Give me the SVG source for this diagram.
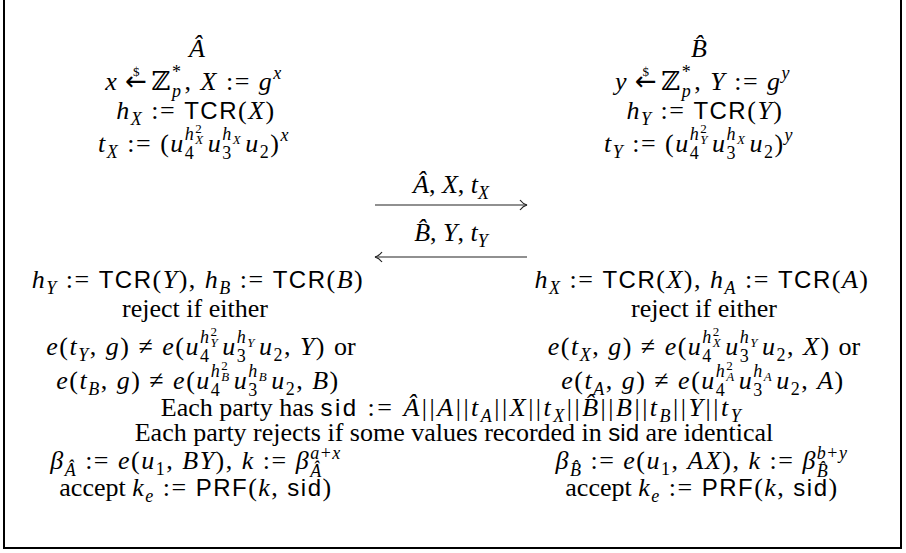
<svg xmlns="http://www.w3.org/2000/svg" width="906" height="553" viewBox="0 0 906 553">
<style>
text{font-family:"Liberation Serif","DejaVu Serif",serif;font-size:26px;fill:#000;text-anchor:middle}
.m{letter-spacing:1.5px}
.p{letter-spacing:0}
.w{letter-spacing:2.5px}
.i{font-style:italic}
.sf{font-family:"Liberation Sans","DejaVu Sans",sans-serif;font-size:24px;font-style:normal}
.s1{font-size:18px}
.s2{font-size:13px}
.ds{font-family:"DejaVu Serif",serif}
.ar{font-family:"DejaVu Sans",sans-serif}
.frame{fill:none;stroke:#000;stroke-width:2}
.msg{fill:none;stroke:#222;stroke-width:1.2}
</style>
<defs>
<marker id="head" viewBox="-9 -6 11 12" markerWidth="11" markerHeight="12" refX="0" refY="0" markerUnits="userSpaceOnUse" orient="auto-start-reverse" overflow="visible">
<path d="M-7,-5 Q-4,-1 0,0 Q-4,1 -7,5" fill="none" stroke="#222" stroke-width="1.2"/>
</marker>
</defs>
<path class="frame" d="M4,0 V548 H901 V0"/>

<g id="party-A">
<text x="197" y="57" class="i">Â</text>
<text x="194" y="90" class="m"><tspan class="i">x</tspan><tspan class="ar" dx="7">←</tspan><tspan class="s2" dx="-15.65" dy="-14">$</tspan><tspan class="ds" dx="10.65" dy="14">ℤ</tspan><tspan class="i s1" dy="7">p</tspan><tspan class="s1" dx="-10.5" dy="-19">*</tspan><tspan dx="2" dy="12">, </tspan><tspan class="i">X</tspan><tspan> := </tspan><tspan class="i">g</tspan><tspan class="i s1" dy="-11">x</tspan></text>
<text x="196" y="119" class="m"><tspan class="i">h</tspan><tspan class="i s1" dy="6">X</tspan><tspan dy="-6"> := </tspan><tspan class="sf">TCR</tspan><tspan>(</tspan><tspan class="i">X</tspan><tspan>)</tspan></text>
<text x="194" y="152" class="m"><tspan class="i">t</tspan><tspan class="i s1" dy="6">X</tspan><tspan dy="-6"> := (</tspan><tspan class="i">u</tspan><tspan class="s1" dy="7">4</tspan><tspan class="i s1" dx="-10.5" dy="-19">h</tspan><tspan class="s2" dy="-7">2</tspan><tspan class="i s2" dx="-8" dy="11">X</tspan><tspan class="i" dx="3" dy="8">u</tspan><tspan class="s1" dy="7">3</tspan><tspan class="i s1" dx="-10.5" dy="-19">h</tspan><tspan class="i s2" dy="4">X</tspan><tspan class="i" dx="3" dy="8">u</tspan><tspan class="s1" dy="6">2</tspan><tspan dy="-6">)</tspan><tspan class="i s1" dy="-11">x</tspan></text>
</g>

<g id="party-B">
<text x="699" y="57" class="i">B̂</text>
<text x="703" y="90" class="m"><tspan class="i">y</tspan><tspan class="ar" dx="7">←</tspan><tspan class="s2" dx="-15.65" dy="-14">$</tspan><tspan class="ds" dx="10.65" dy="14">ℤ</tspan><tspan class="i s1" dy="7">p</tspan><tspan class="s1" dx="-10.5" dy="-19">*</tspan><tspan dx="2" dy="12">, </tspan><tspan class="i">Y</tspan><tspan> := </tspan><tspan class="i">g</tspan><tspan class="i s1" dy="-11">y</tspan></text>
<text x="705" y="119" class="m"><tspan class="i">h</tspan><tspan class="i s1" dy="6">Y</tspan><tspan dy="-6"> := </tspan><tspan class="sf">TCR</tspan><tspan>(</tspan><tspan class="i">Y</tspan><tspan>)</tspan></text>
<text x="699" y="152" class="m"><tspan class="i">t</tspan><tspan class="i s1" dy="6">Y</tspan><tspan dy="-6"> := (</tspan><tspan class="i">u</tspan><tspan class="s1" dy="7">4</tspan><tspan class="i s1" dx="-10.5" dy="-19">h</tspan><tspan class="s2" dy="-7">2</tspan><tspan class="i s2" dx="-8" dy="11">Y</tspan><tspan class="i" dx="3" dy="8">u</tspan><tspan class="s1" dy="7">3</tspan><tspan class="i s1" dx="-10.5" dy="-19">h</tspan><tspan class="i s2" dy="4">X</tspan><tspan class="i" dx="3" dy="8">u</tspan><tspan class="s1" dy="6">2</tspan><tspan dy="-6">)</tspan><tspan class="i s1" dy="-11">y</tspan></text>
</g>

<g id="connectors">
<line class="msg" x1="375" y1="205" x2="527" y2="205" marker-end="url(#head)"/>
<text x="451" y="193"><tspan class="i">Â</tspan><tspan>, </tspan><tspan class="i">X</tspan><tspan>, </tspan><tspan class="i">t</tspan><tspan class="i s1" dy="6">X</tspan></text>
<line class="msg" x1="375" y1="257" x2="527" y2="257" marker-start="url(#head)"/>
<text x="451" y="241"><tspan class="i">B̂</tspan><tspan>, </tspan><tspan class="i">Y</tspan><tspan>, </tspan><tspan class="i">t</tspan><tspan class="i s1" dy="6">Y</tspan></text>
</g>

<g id="verify-A">
<text x="198" y="288" class="m"><tspan class="i">h</tspan><tspan class="i s1" dy="6">Y</tspan><tspan dy="-6"> := </tspan><tspan class="sf">TCR</tspan><tspan>(</tspan><tspan class="i">Y</tspan><tspan>), </tspan><tspan class="i">h</tspan><tspan class="i s1" dy="6">B</tspan><tspan dy="-6"> := </tspan><tspan class="sf">TCR</tspan><tspan>(</tspan><tspan class="i">B</tspan><tspan>)</tspan></text>
<text x="195" y="317">reject if either</text>
<text x="201" y="355" class="m"><tspan class="i">e</tspan><tspan>(</tspan><tspan class="i">t</tspan><tspan class="i s1" dy="6">Y</tspan><tspan dy="-6">, </tspan><tspan class="i">g</tspan><tspan>) ≠ </tspan><tspan class="i">e</tspan><tspan>(</tspan><tspan class="i">u</tspan><tspan class="s1" dy="7">4</tspan><tspan class="i s1" dx="-10.5" dy="-19">h</tspan><tspan class="s2" dy="-7">2</tspan><tspan class="i s2" dx="-8" dy="11">Y</tspan><tspan class="i" dx="3" dy="8">u</tspan><tspan class="s1" dy="7">3</tspan><tspan class="i s1" dx="-10.5" dy="-19">h</tspan><tspan class="i s2" dy="4">Y</tspan><tspan class="i" dx="3" dy="8">u</tspan><tspan class="s1" dy="6">2</tspan><tspan dy="-6">, </tspan><tspan class="i">Y</tspan><tspan>) </tspan><tspan class="p">or</tspan></text>
<text x="198" y="389" class="m"><tspan class="i">e</tspan><tspan>(</tspan><tspan class="i">t</tspan><tspan class="i s1" dy="6">B</tspan><tspan dy="-6">, </tspan><tspan class="i">g</tspan><tspan>) ≠ </tspan><tspan class="i">e</tspan><tspan>(</tspan><tspan class="i">u</tspan><tspan class="s1" dy="7">4</tspan><tspan class="i s1" dx="-10.5" dy="-19">h</tspan><tspan class="s2" dy="-7">2</tspan><tspan class="i s2" dx="-8" dy="11">B</tspan><tspan class="i" dx="3" dy="8">u</tspan><tspan class="s1" dy="7">3</tspan><tspan class="i s1" dx="-10.5" dy="-19">h</tspan><tspan class="i s2" dy="4">B</tspan><tspan class="i" dx="3" dy="8">u</tspan><tspan class="s1" dy="6">2</tspan><tspan dy="-6">, </tspan><tspan class="i">B</tspan><tspan>)</tspan></text>
</g>

<g id="verify-B">
<text x="702" y="288" class="m"><tspan class="i">h</tspan><tspan class="i s1" dy="6">X</tspan><tspan dy="-6"> := </tspan><tspan class="sf">TCR</tspan><tspan>(</tspan><tspan class="i">X</tspan><tspan>), </tspan><tspan class="i">h</tspan><tspan class="i s1" dy="6">A</tspan><tspan dy="-6"> := </tspan><tspan class="sf">TCR</tspan><tspan>(</tspan><tspan class="i">A</tspan><tspan>)</tspan></text>
<text x="704" y="317">reject if either</text>
<text x="704" y="355" class="m"><tspan class="i">e</tspan><tspan>(</tspan><tspan class="i">t</tspan><tspan class="i s1" dy="6">X</tspan><tspan dy="-6">, </tspan><tspan class="i">g</tspan><tspan>) ≠ </tspan><tspan class="i">e</tspan><tspan>(</tspan><tspan class="i">u</tspan><tspan class="s1" dy="7">4</tspan><tspan class="i s1" dx="-10.5" dy="-19">h</tspan><tspan class="s2" dy="-7">2</tspan><tspan class="i s2" dx="-8" dy="11">X</tspan><tspan class="i" dx="3" dy="8">u</tspan><tspan class="s1" dy="7">3</tspan><tspan class="i s1" dx="-10.5" dy="-19">h</tspan><tspan class="i s2" dy="4">Y</tspan><tspan class="i" dx="3" dy="8">u</tspan><tspan class="s1" dy="6">2</tspan><tspan dy="-6">, </tspan><tspan class="i">X</tspan><tspan>) </tspan><tspan class="p">or</tspan></text>
<text x="703" y="389" class="m"><tspan class="i">e</tspan><tspan>(</tspan><tspan class="i">t</tspan><tspan class="i s1" dy="6">A</tspan><tspan dy="-6">, </tspan><tspan class="i">g</tspan><tspan>) ≠ </tspan><tspan class="i">e</tspan><tspan>(</tspan><tspan class="i">u</tspan><tspan class="s1" dy="7">4</tspan><tspan class="i s1" dx="-10.5" dy="-19">h</tspan><tspan class="s2" dy="-7">2</tspan><tspan class="i s2" dx="-8" dy="11">A</tspan><tspan class="i" dx="3" dy="8">u</tspan><tspan class="s1" dy="7">3</tspan><tspan class="i s1" dx="-10.5" dy="-19">h</tspan><tspan class="i s2" dy="4">A</tspan><tspan class="i" dx="3" dy="8">u</tspan><tspan class="s1" dy="6">2</tspan><tspan dy="-6">, </tspan><tspan class="i">A</tspan><tspan>)</tspan></text>
</g>

<g id="session">
<text x="452" y="416"><tspan>Each party has </tspan><tspan class="sf w">sid</tspan><tspan class="w"> := </tspan><tspan class="i w">Â</tspan><tspan class="w">||</tspan><tspan class="i w">A</tspan><tspan class="w">||</tspan><tspan class="i w">t</tspan><tspan class="i s1 w" dy="6">A</tspan><tspan class="w" dy="-6">||</tspan><tspan class="i w">X</tspan><tspan class="w">||</tspan><tspan class="i w">t</tspan><tspan class="i s1 w" dy="6">X</tspan><tspan class="w" dy="-6">||</tspan><tspan class="i w">B̂</tspan><tspan class="w">||</tspan><tspan class="i w">B</tspan><tspan class="w">||</tspan><tspan class="i w">t</tspan><tspan class="i s1 w" dy="6">B</tspan><tspan class="w" dy="-6">||</tspan><tspan class="i w">Y</tspan><tspan class="w">||</tspan><tspan class="i w">t</tspan><tspan class="i s1 w" dy="6">Y</tspan></text>
<text x="454" y="441"><tspan>Each party rejects if some values recorded in </tspan><tspan class="sf">sid</tspan><tspan> are identical</tspan></text>
</g>

<g id="key-A">
<text x="196" y="469" class="m"><tspan class="i">β</tspan><tspan class="i s1" dy="7">Â</tspan><tspan dy="-7"> := </tspan><tspan class="i">e</tspan><tspan>(</tspan><tspan class="i">u</tspan><tspan class="s1" dy="6">1</tspan><tspan dy="-6">, </tspan><tspan class="i">BY</tspan><tspan>), </tspan><tspan class="i">k</tspan><tspan> := </tspan><tspan class="i">β</tspan><tspan class="i s1" dy="8">Â</tspan><tspan class="i s1" dx="-12.5" dy="-18">a</tspan><tspan class="s1">+</tspan><tspan class="i s1">x</tspan></text>
<text x="196" y="496" class="m"><tspan class="p">accept </tspan><tspan class="i">k</tspan><tspan class="i s1" dy="6">e</tspan><tspan dy="-6"> := </tspan><tspan class="sf">PRF</tspan><tspan>(</tspan><tspan class="i">k</tspan><tspan>, </tspan><tspan class="sf">sid</tspan><tspan>)</tspan></text>
</g>

<g id="key-B">
<text x="702" y="469" class="m"><tspan class="i">β</tspan><tspan class="i s1" dy="7">B̂</tspan><tspan dy="-7"> := </tspan><tspan class="i">e</tspan><tspan>(</tspan><tspan class="i">u</tspan><tspan class="s1" dy="6">1</tspan><tspan dy="-6">, </tspan><tspan class="i">AX</tspan><tspan>), </tspan><tspan class="i">k</tspan><tspan> := </tspan><tspan class="i">β</tspan><tspan class="i s1" dy="8">B̂</tspan><tspan class="i s1" dx="-12.5" dy="-18">b</tspan><tspan class="s1">+</tspan><tspan class="i s1">y</tspan></text>
<text x="702" y="496" class="m"><tspan class="p">accept </tspan><tspan class="i">k</tspan><tspan class="i s1" dy="6">e</tspan><tspan dy="-6"> := </tspan><tspan class="sf">PRF</tspan><tspan>(</tspan><tspan class="i">k</tspan><tspan>, </tspan><tspan class="sf">sid</tspan><tspan>)</tspan></text>
</g>
</svg>
